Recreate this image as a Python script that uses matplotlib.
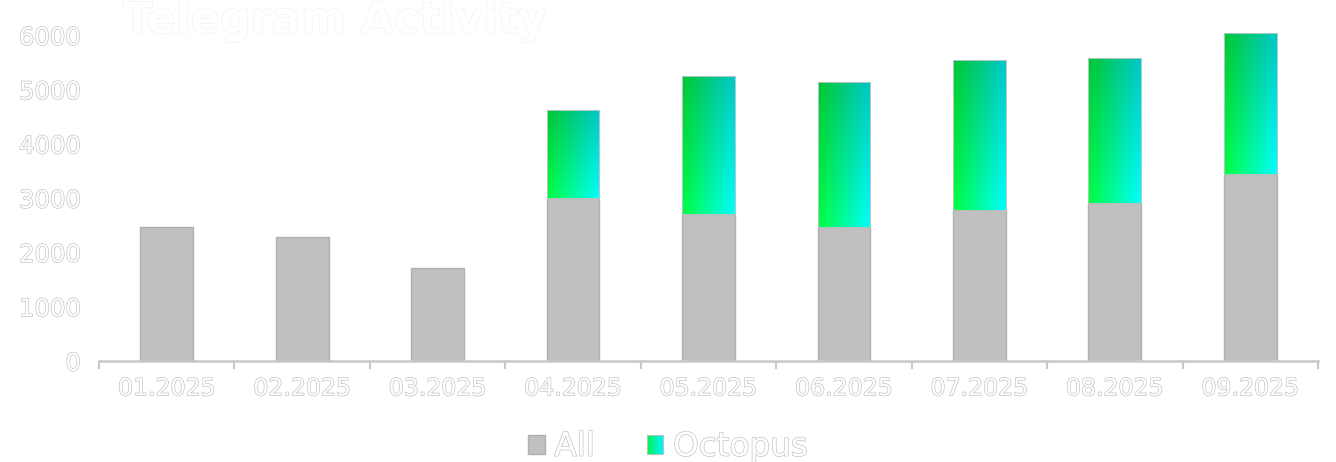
import numpy as np
import matplotlib
matplotlib.use("Agg")
import matplotlib.pyplot as plt
import matplotlib.patheffects as pe
from matplotlib.patches import Rectangle
from matplotlib.legend_handler import HandlerBase

months = ["01.2025", "02.2025", "03.2025", "04.2025", "05.2025",
          "06.2025", "07.2025", "08.2025", "09.2025"]
all_vals = [2460, 2285, 1705, 3000, 2700, 2475, 2785, 2905, 3450]
octopus_vals = [0, 0, 0, 1620, 2545, 2660, 2765, 2670, 2585]
y_ticks = [0, 1000, 2000, 3000, 4000, 5000, 6000]

plt.rcParams['font.family'] = ['DejaVu Sans']

# white text with a thin light grey outline
outline = [pe.withStroke(linewidth=1.0, foreground='#c4c4c4')]
title_outline = [pe.withStroke(linewidth=0.8, foreground='#f0f0f0')]


def gradient_image(nx=60, ny=120):
    u = np.linspace(0, 1, nx)[None, :]
    v = np.linspace(0, 1, ny)[:, None]  # 0 = top, 1 = bottom
    shade = 0.78 + 0.22 * v
    img = np.zeros((ny, nx, 3))
    img[..., 1] = 1.0 * shade + 0 * u
    img[..., 2] = (0.25 + 0.75 * u) * shade
    return img


fig = plt.figure(figsize=(13.36, 4.62), dpi=100)
fig.patch.set_facecolor('white')
ax = fig.add_axes([0.0741, 0.2186, 0.9124, 0.7284])
ax.set_facecolor('white')

x = np.arange(len(months))
width = 0.39
ax.bar(x, all_vals, width, color='#c0c0c0', edgecolor='#b0b0b0', linewidth=1, zorder=2)

# octopus part: gradient image clipped to the stacked bar shape
oct_bars = ax.bar(x, octopus_vals, width, bottom=all_vals, facecolor='none',
                  edgecolor='#b4c8c0', linewidth=0.7, zorder=4)
img = gradient_image()
for patch, xi, base, h in zip(oct_bars, x, all_vals, octopus_vals):
    if h <= 0:
        patch.set_visible(False)
        continue
    im = ax.imshow(img, extent=[xi - width / 2, xi + width / 2, base - 20, base + h + 20],
                   aspect='auto', origin='upper', zorder=3, interpolation='bilinear')
    im.set_clip_path(patch)

ax.set_xlim(-0.5, len(months) - 0.5)
ax.set_ylim(0, 6200)
ax.set_yticks(y_ticks)
ax.set_yticklabels([str(t) for t in y_ticks])
ax.set_xticks(x)
ax.set_xticklabels(months)
ax.set_xticks(np.arange(-0.5, len(months)), minor=True)
ax.tick_params(axis='x', which='major', length=0, pad=11, labelsize=17, labelcolor='white')
ax.tick_params(axis='x', which='minor', length=6, width=1.5, color='#c8c8c8')
ax.tick_params(axis='y', length=0, pad=13, labelsize=17.5, labelcolor='white')
for lab in ax.get_xticklabels() + ax.get_yticklabels():
    lab.set_path_effects(outline)

for side in ['top', 'right', 'left']:
    ax.spines[side].set_visible(False)
ax.spines['bottom'].set_color('#c8c8c8')
ax.spines['bottom'].set_linewidth(1.8)

fig.text(0.092, 1.0, "Telegram Activity", ha='left', va='top', fontsize=31,
         fontweight='bold', color='white', path_effects=title_outline)


class GradientHandler(HandlerBase):
    def create_artists(self, legend, orig_handle, xdescent, ydescent,
                       width, height, fontsize, trans):
        n = 12
        artists = []
        for i in range(n):
            t = i / (n - 1)
            r = Rectangle((-xdescent + width * i / n, -ydescent), width / n + 0.3, height,
                          facecolor=(0, 0.95, 0.3 + 0.7 * t), edgecolor='none', transform=trans)
            artists.append(r)
        frame = Rectangle((-xdescent, -ydescent), width, height, fill=False,
                          edgecolor='#b4c4be', linewidth=0.8, transform=trans)
        artists.append(frame)
        return artists


all_handle = Rectangle((0, 0), 1, 1, facecolor='#c0c0c0', edgecolor='#b0b0b0')
oct_handle = Rectangle((0, 0), 1, 1)
leg = fig.legend([all_handle, oct_handle], ["All", "Octopus"], loc='center',
                 bbox_to_anchor=(0.5, 0.034), ncol=2, frameon=False, fontsize=23.5,
                 handlelength=0.5, handleheight=0.5, handletextpad=0.3,
                 columnspacing=1.6, handler_map={oct_handle: GradientHandler()})
for t in leg.get_texts():
    t.set_color('white')
    t.set_path_effects(outline)

fig.savefig("out.png", dpi=100, facecolor='white')
